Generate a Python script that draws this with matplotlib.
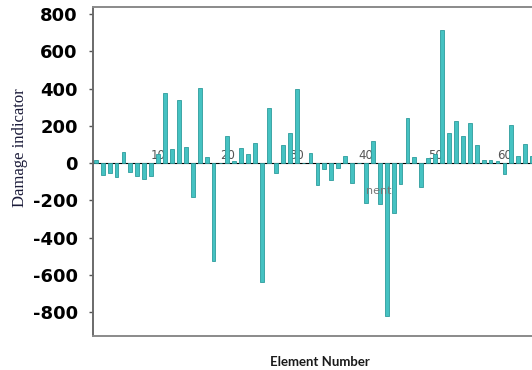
import matplotlib
matplotlib.use("Agg")
import matplotlib.pyplot as plt

# ── data ────────────────────────────────────────────────────────────────
elements = list(range(1, 65))
damage = [
    18, -65, -55, -75, 60, -48, -70, -85, -70, 48,
    375, 75, 340, 85, -180, 405, 32, -525, 0, 145,
    12, 80, 50, 105, -640, 295, -55, 97, 160, 395,
    0, 52, -118, -32, -92, -27, 37, -108, 0, -215,
    118, -220, -820, -268, -113, 240, 32, -130, 27, 48,
    715, 160, 225, 145, 215, 97, 15, 15, 12, -60,
    205, 37, 102, 37,
]
xticks = [10, 20, 30, 40, 50, 60]
yticks = [-800, -600, -400, -200, 0, 200, 400, 600, 800]

W, H = 532, 370
fig = plt.figure(figsize=(W / 100, H / 100), dpi=100)
fig.patch.set_facecolor("white")

# axes box: left spine at x=93px, top 7px, bottom 336px, right runs off the image
ax = fig.add_axes([93 / W, 1 - 336 / H, 453 / W, 329 / H])
ax.set_xlim(0.6, 66)
ax.set_ylim(-929, 838)

ax.bar(elements, damage, width=0.55, color="#45C2C2",
       edgecolor="#2E9C9C", linewidth=0.6, zorder=2)

for s in ax.spines.values():
    s.set_color("#8a8a8a")
    s.set_linewidth(1.4)
ax.spines["left"].set_color("#6a6a6a")

ax.set_yticks(yticks)
ax.set_yticklabels([str(v) for v in yticks], fontweight="bold",
                   fontsize=13, color="black")
ax.tick_params(axis="y", length=3, width=1, color="#555555", pad=8)
ax.set_xticks([])

# x axis drawn along zero, like the reference
y0 = (0 - ax.get_ylim()[0]) / (ax.get_ylim()[1] - ax.get_ylim()[0])
sec = ax.secondary_xaxis(y0)
sec.set_xticks(xticks)
sec.tick_params(length=0, labelsize=8.5, labelcolor="#555555", pad=1)
sec.spines["bottom"].set_color("#4a4a4a")
sec.spines["bottom"].set_linewidth(1.3)
sec.spines["bottom"].set_zorder(3)

# leftover fragment of an old label in the reference
ax.text(41.8, -150, "nent", fontsize=8, color="#777777",
        ha="center", va="center")

fig.text(20 / W, 1 - 148 / H, "Damage indicator", rotation=90,
         family="Liberation Serif", fontsize=12, color="#1c1c3a",
         ha="center", va="center")
fig.text(320 / W, 1 - 362 / H, "Element Number", family="Lato",
         fontweight="bold", fontsize=9.5, color="#1a1a1a",
         ha="center", va="center")

fig.savefig("out.png", dpi=100)
